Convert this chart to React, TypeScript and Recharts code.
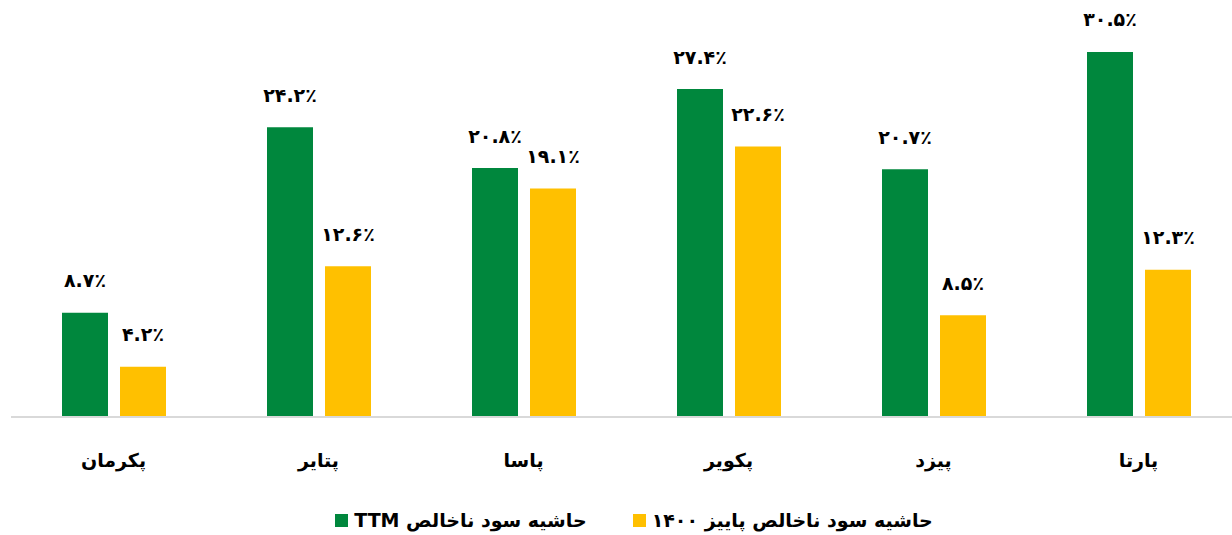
import React from "react";
import { BarChart, Bar, XAxis, YAxis, LabelList } from "recharts";

const categories = ["پکرمان", "پتایر", "پاسا", "پکویر", "پیزد", "پارتا"];
const ttmValues = [8.7, 24.2, 20.8, 27.4, 20.7, 30.5];
const autumnValues = [4.2, 12.6, 19.1, 22.6, 8.5, 12.3];
const seriesNames = ["حاشیه سود ناخالص TTM", "حاشیه سود ناخالص پاییز ۱۴۰۰"];
const colors = ["#00873D", "#FFC000"];

const data = categories.map((c, i) => ({ name: c, ttm: ttmValues[i], autumn: autumnValues[i] }));

const FONT = "'DejaVu Sans', sans-serif";

if (typeof document !== "undefined") {
  document.body.style.margin = "0";
}

const toFa = (s: string) => s.replace(/[0-9]/g, (d) => "۰۱۲۳۴۵۶۷۸۹"[Number(d)]);

const ValueLabel = (props: any) => {
  const { x, y, width, value } = props;
  return (
    <text
      x={Number(x) + Number(width) / 2}
      y={Number(y) - 31}
      textAnchor="middle"
      dominantBaseline="middle"
      fontFamily={FONT}
      fontWeight="bold"
      fontSize={19}
      fill="#000"
    >
      {toFa(Number(value).toFixed(1)) + "٪"}
    </text>
  );
};

const CatTick = (props: any) => {
  const { x, y, payload } = props;
  return (
    <text
      x={x}
      y={Number(y) + 36}
      textAnchor="middle"
      dominantBaseline="middle"
      fontFamily={FONT}
      fontWeight="bold"
      fontSize={19}
      fill="#000"
      direction="rtl"
    >
      {payload.value}
    </text>
  );
};

export default function App() {
  return (
    <div style={{ position: "relative", width: 1232, height: 535, overflow: "hidden", background: "#fff" }}>
      <BarChart
        width={1250}
        height={535}
        data={data}
        margin={{ top: 34, right: 9, left: 11, bottom: 0 }}
        barSize={46}
        barGap={12}
      >
        <YAxis hide domain={[0, 32]} />
        <XAxis
          dataKey="name"
          height={118}
          axisLine={{ stroke: "#D9D9D9", strokeWidth: 2 }}
          tickLine={false}
          tick={<CatTick />}
          interval={0}
        />
        <Bar dataKey="ttm" fill={colors[0]} isAnimationActive={false}>
          <LabelList dataKey="ttm" content={<ValueLabel />} />
        </Bar>
        <Bar dataKey="autumn" fill={colors[1]} isAnimationActive={false}>
          <LabelList dataKey="autumn" content={<ValueLabel />} />
        </Bar>
      </BarChart>
      <div
        style={{
          position: "absolute",
          top: 506,
          left: 18,
          width: 1232,
          height: 28,
          display: "flex",
          justifyContent: "center",
          alignItems: "center",
          fontFamily: FONT,
          fontWeight: "bold",
          fontSize: 19,
          lineHeight: "28px",
          color: "#000",
        }}
      >
        <span style={{ display: "inline-block", width: 13, height: 13, background: colors[0], marginRight: 6 }} />
        <span dir="rtl">{seriesNames[0]}</span>
        <span style={{ display: "inline-block", width: 13, height: 13, background: colors[1], marginLeft: 46, marginRight: 6 }} />
        <span dir="rtl">{seriesNames[1]}</span>
      </div>
    </div>
  );
}
